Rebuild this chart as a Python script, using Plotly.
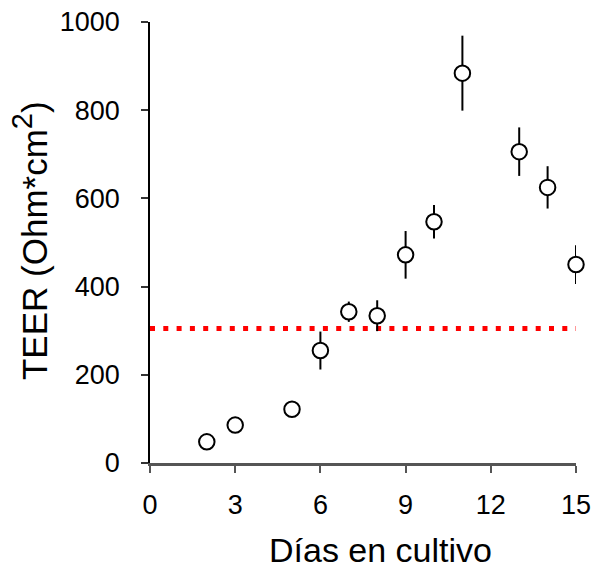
import plotly.graph_objects as go

days = [2, 3, 5, 6, 7, 8, 9, 10, 11, 13, 14, 15]
teer = [48, 86, 122, 255, 343, 334, 472, 547, 884, 706, 625, 450]
teer_err = [10, 12, 12, 43, 23, 35, 54, 38, 85, 55, 48, 44]
ref_x = [0, 15]
ref_value = 305
x_ticks = [0, 3, 6, 9, 12, 15]
y_ticks = [0, 200, 400, 600, 800, 1000]

FONT = "Liberation Sans, Arial, sans-serif"

fig = go.Figure()
fig.add_trace(go.Scatter(
    x=ref_x, y=[ref_value] * len(ref_x), mode="lines",
    line=dict(color="#ff0000", width=5, dash="5px,8.3px"),
    hoverinfo="skip", showlegend=False,
))
fig.add_trace(go.Scatter(
    x=days, y=teer, mode="markers",
    marker=dict(symbol="circle", size=15.5, color="white",
                line=dict(color="black", width=2)),
    error_y=dict(type="data", array=teer_err, visible=True,
                 color="black", thickness=2, width=0),
    cliponaxis=False, showlegend=False,
))

fig.update_layout(
    width=595, height=569,
    margin=dict(l=150, r=19, t=22, b=106),
    paper_bgcolor="white", plot_bgcolor="white",
    font=dict(family=FONT, color="black"),
    showlegend=False,
)
fig.update_xaxes(
    range=[0, 15], tickvals=x_ticks, ticktext=[str(v) for v in x_ticks],
    showgrid=False, zeroline=False, automargin=False,
    showline=True, linecolor="#555555", linewidth=2.5,
    ticks="outside", ticklen=7, tickwidth=1.5, tickcolor="#555555",
    ticklabelstandoff=9,
    tickfont=dict(size=27, family=FONT, color="black"),
)
fig.update_yaxes(
    range=[0, 1000], tickvals=y_ticks, ticktext=[str(v) for v in y_ticks],
    showgrid=False, zeroline=False, automargin=False,
    showline=True, linecolor="black", linewidth=1.5,
    ticks="outside", ticklen=7, tickwidth=1.5, tickcolor="#333333",
    ticklabelstandoff=16,
    tickfont=dict(size=27, family=FONT, color="black"),
)
fig.add_annotation(
    text="Días en cultivo", xref="paper", yref="paper",
    x=0.54, y=-0.197, xanchor="center", yanchor="middle",
    showarrow=False, font=dict(size=34, family=FONT, color="black"),
)
fig.add_annotation(
    text="TEER (Ohm*cm<sup><span style='font-size:29px'>2</span></sup>)",
    xref="paper", yref="paper",
    x=-0.28, y=0.505, xanchor="center", yanchor="middle", textangle=-90,
    showarrow=False, font=dict(size=35, family=FONT, color="black"),
)

fig.write_html("out.html")
